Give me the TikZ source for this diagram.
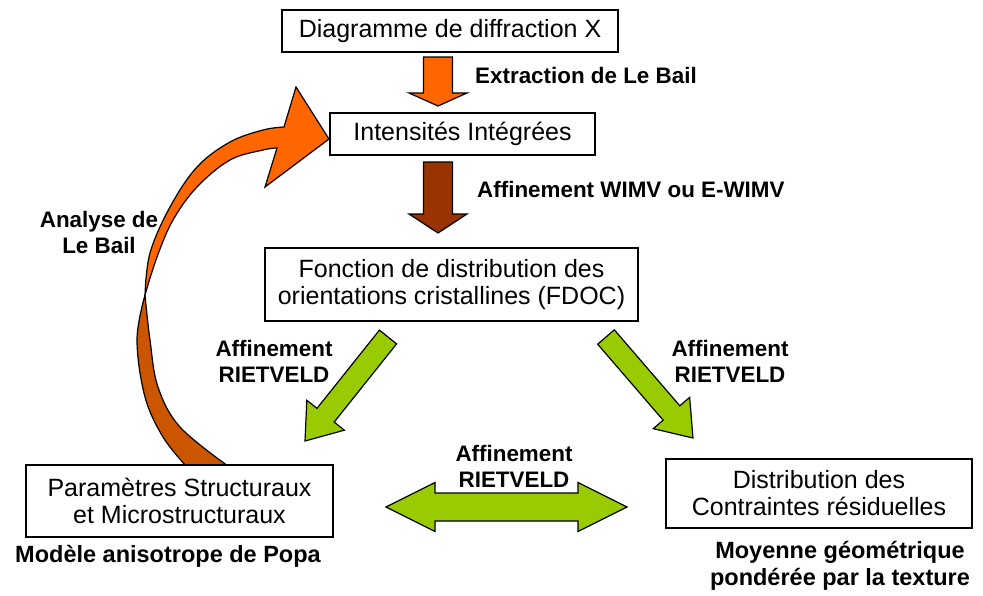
\documentclass[tikz,border=0pt]{standalone}
\usepackage{fontspec}
\setmainfont{Liberation Sans}
\usetikzlibrary{calc}
\definecolor{orA}{HTML}{FF6600}
\definecolor{orB}{HTML}{CC5500}
\definecolor{brn}{HTML}{993300}
\definecolor{grn}{HTML}{99CC00}
\newcommand{\blockarr}[6]{%
  \coordinate (ba-h) at ($(#2)!#5!(#1)$);
  \draw[#6] ($(#1)!#3!90:(#2)$) -- ($(ba-h)!#3!90:(#2)$) -- ($(ba-h)!#4!90:(#2)$) -- (#2)
    -- ($(ba-h)!#4!-90:(#2)$) -- ($(ba-h)!#3!-90:(#2)$) -- ($(#1)!#3!-90:(#2)$) -- cycle;}
\begin{document}
\begin{tikzpicture}[x=1pt,y=-1pt,
  box/.style={draw, line width=1.5pt, fill=white, inner sep=0pt, align=center,
    font=\fontsize{25}{27}\selectfont},
  lbl/.style={font=\fontsize{22.4}{26}\selectfont\bfseries, align=center, inner sep=0pt},
  lblb/.style={font=\fontsize{23.5}{27}\selectfont\bfseries, align=center, inner sep=0pt},
  arr/.style={draw, line width=1.2pt, line join=miter}]
\useasboundingbox (0,0) rectangle (983,595);

% curved arrow (Analyse de Le Bail)
\draw[arr, fill=orB, line join=round]
  plot[smooth, tension=0.6] coordinates {(186,466) (163,437) (145,397) (137,340) (145,295)}
  -- plot[smooth, tension=0.6] coordinates {(145,295) (150,340) (158,387) (180,427) (228,466)}
  -- cycle;
\draw[arr, fill=orA]
  plot[smooth, tension=0.6] coordinates {(145,295) (150,253) (170,207) (197,167) (230,142) (263,130) (284,127)}
  -- (296,87) -- (329,139) -- (265,187) -- (277,148)
  -- plot[smooth, tension=0.6] coordinates {(277,148) (263,150) (230,160) (197,187) (173,220) (157,257) (145,295)}
  -- cycle;

% boxes
\node[box, minimum width=336pt, minimum height=42pt] (diag) at (450,31) {Diagramme de diffraction X};
\node[box, minimum width=265pt, minimum height=42pt] (int) at (462.5,134) {Intensités Intégrées};
\node[box, minimum width=373pt, minimum height=73pt] (fdoc) at (451.5,284.5) {Fonction de distribution des\\orientations cristallines (FDOC)};
\node[box, minimum width=307pt, minimum height=72pt] (param) at (179.5,501) {Paramètres Structuraux\\et Microstructuraux};
\node[box, minimum width=306pt, minimum height=69pt] (contr) at (819,493.5) {Distribution des\\Contraintes résiduelles};

% block arrows
\coordinate (a1t) at (438,57);  \coordinate (a1h) at (438,106);
\coordinate (a2t) at (438,162); \coordinate (a2h) at (438,233);
\coordinate (a3t) at (388,337); \coordinate (a3h) at (305,441);
\coordinate (a4t) at (606,337); \coordinate (a4h) at (693,438);
\blockarr{a1t}{a1h}{14.5pt}{29pt}{13pt}{arr, fill=orA}
\blockarr{a2t}{a2h}{14.5pt}{29pt}{19pt}{arr, fill=brn}
\blockarr{a3t}{a3h}{11pt}{24pt}{33pt}{arr, fill=grn}
\blockarr{a4t}{a4h}{11pt}{24pt}{33pt}{arr, fill=grn}

% double arrow
\coordinate (dl) at (386,507); \coordinate (dr) at (627,507);
\draw[arr, fill=grn] (dl) -- ++(49,-24.5) -- ++(0,10.5) -- ++(143,0) -- ++(0,-10.5)
  -- (dr) -- ++(-49,24.5) -- ++(0,-10.5) -- ++(-143,0) -- ++(0,10.5) -- cycle;

% labels
\node[lbl, anchor=base west] (lx) at (475,83) {Extraction de Le Bail};
\node[lbl, anchor=base west] (lw) at (477,197) {Affinement WIMV ou E-WIMV};
\node[lbl] (lab) at (99,232) {Analyse de\\Le Bail};
\node[lbl] (lrl) at (274,361) {Affinement\\RIETVELD};
\node[lbl] (lrr) at (730,361) {Affinement\\RIETVELD};
\node[lbl] (lrm) at (514,466) {Affinement\\RIETVELD};
\node[lblb, anchor=base] (lpopa) at (168,562) {Modèle anisotrope de Popa};
\node[lblb] (lmoy) at (840,566) {Moyenne géométrique\\pondérée par la texture};
\end{tikzpicture}
\end{document}
